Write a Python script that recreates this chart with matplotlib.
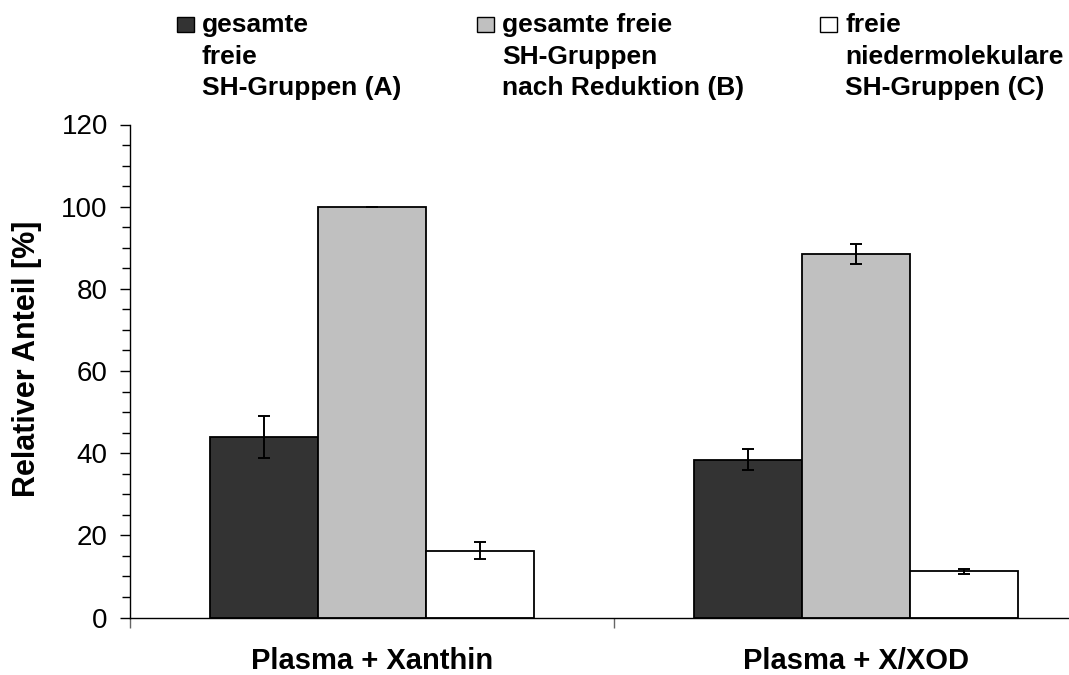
import numpy as np
import matplotlib
matplotlib.use('Agg')
import matplotlib.pyplot as plt
from matplotlib.patches import Rectangle

plt.rcParams['font.family'] = ['Liberation Sans', 'DejaVu Sans']

# Daten
gruppen = ['Plasma + Xanthin', 'Plasma + X/XOD']
serien = ['gesamte\nfreie\nSH-Gruppen (A)',
          'gesamte freie\nSH-Gruppen\nnach Reduktion (B)',
          'freie\nniedermolekulare\nSH-Gruppen (C)']
werte_A = [43.9, 38.4]
werte_B = [100.0, 88.5]
werte_C = [16.3, 11.2]
fehler_A = [5.1, 2.6]
fehler_B = [0.0, 2.35]
fehler_C = [2.1, 0.65]
farben = ['#333333', '#c0c0c0', '#ffffff']

W, H = 1069, 675
fig = plt.figure(figsize=(W / 100, H / 100), dpi=100)
ax = fig.add_axes([130 / W, 57.5 / H, 968 / W, 493 / H])

x = np.arange(len(gruppen))
breite = 0.223
alle_werte = [werte_A, werte_B, werte_C]
alle_fehler = [fehler_A, fehler_B, fehler_C]
for i, (w, f, c) in enumerate(zip(alle_werte, alle_fehler, farben)):
    ax.bar(x + (i - 1) * breite, w, breite, color=c, edgecolor='black',
           linewidth=1.3, yerr=f, capsize=4.5,
           error_kw=dict(elinewidth=1.4, capthick=1.4, ecolor='black'), zorder=2)

ax.set_xlim(-0.5, 1.5)
ax.set_ylim(0, 120)
ax.set_yticks(np.arange(0, 121, 20))
ax.set_yticks(np.arange(0, 121, 5), minor=True)
ax.tick_params(axis='y', which='major', labelsize=20, length=7, width=1, pad=9)
ax.tick_params(axis='y', which='minor', length=5.5, width=1)

# Kategorie-Achse: Striche an den Grenzen, Beschriftung in der Mitte
ax.set_xticks([-0.5, 0.5, 1.5])
ax.set_xticklabels([])
ax.set_xticks(x, minor=True)
ax.set_xticklabels(gruppen, minor=True, fontsize=21, fontweight='bold')
ax.tick_params(axis='x', which='major', length=7, width=1, color='#666666')
ax.tick_params(axis='x', which='minor', length=0, pad=21)

ax.spines['top'].set_visible(False)
ax.spines['right'].set_visible(False)
ax.spines['left'].set_linewidth(1)
ax.spines['bottom'].set_linewidth(1)

ax.set_ylabel('Relativer Anteil [%]', fontsize=22, fontweight='bold')
ax.yaxis.set_label_coords(-0.0914, 0.524)

# Legende oben, manuell gesetzt (Kästchen + Text je Zeile)
leg_x = [177, 477, 820]
zeilen_y = [32.3, 63.6, 95]
for lx, text, c in zip(leg_x, serien, farben):
    fig.patches.append(Rectangle((lx / W, 1 - 32.3 / H), 17 / W, 15 / H,
                                 facecolor=c, edgecolor='black', linewidth=1,
                                 transform=fig.transFigure, figure=fig))
    for zeile, zy in zip(text.split('\n'), zeilen_y):
        fig.text((lx + 25) / W, 1 - zy / H, zeile, fontsize=19, fontweight='bold',
                 va='baseline', ha='left')

fig.savefig('out.png', dpi=100)
